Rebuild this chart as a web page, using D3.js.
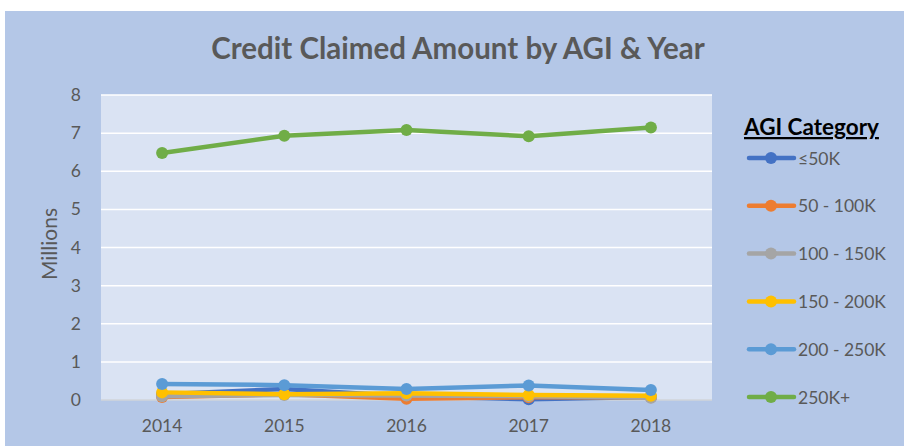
<!DOCTYPE html>
<html><head><meta charset="utf-8">
<script src="https://cdn.jsdelivr.net/npm/d3@7"></script>
<style>body{margin:0;background:#fff}svg{display:block}text{font-family:Lato,"Open Sans",sans-serif}</style>
</head><body>
<script>
const years = ["2014","2015","2016","2017","2018"];
const seriesNames = ["≤50K","50 - 100K","100 - 150K","150 - 200K","200 - 250K","250K+"];
const colors = ["#4472c4","#ed7d31","#a5a5a5","#ffc000","#5b9bd5","#70ad47"];
const v50 = [0.15,0.29,0.10,0.02,0.08];
const v100 = [0.08,0.15,0.03,0.07,0.07];
const v150 = [0.10,0.13,0.12,0.10,0.06];
const v200 = [0.20,0.15,0.18,0.13,0.11];
const v250 = [0.42,0.39,0.29,0.38,0.26];
const v250plus = [6.48,6.93,7.08,6.92,7.15];
const yTicks = [0,1,2,3,4,5,6,7,8];
const values = [v50,v100,v150,v200,v250,v250plus];

const W=904,H=446;
const svg=d3.select("body").append("svg").attr("width",W).attr("height",H);
svg.append("rect").attr("x",5).attr("y",11).attr("width",W-5).attr("height",H-11).attr("fill","#b4c7e7");
const L=101,R=712,T=95,B=400;
svg.append("rect").attr("x",L).attr("y",T).attr("width",R-L).attr("height",B-T).attr("fill","#dae3f3");
const x=d3.scalePoint().domain(years).range([L,R]).padding(0.5);
const y=d3.scaleLinear().domain([0,8]).range([B,T]);
svg.append("g").selectAll("line").data(yTicks.slice(1)).join("line")
 .attr("x1",L).attr("x2",R).attr("y1",d=>y(d)).attr("y2",d=>y(d)).attr("stroke","#fff").attr("stroke-width",1.5);
svg.append("line").attr("x1",L).attr("x2",R).attr("y1",B).attr("y2",B).attr("stroke","#d0d4da").attr("stroke-width",1.5);
svg.append("g").selectAll("text").data(yTicks).join("text")
 .attr("x",81).attr("y",d=>y(d)+6).attr("text-anchor","end").attr("font-size",17.5).attr("fill","#595959").text(d=>d);
svg.append("g").selectAll("text").data(years).join("text")
 .attr("x",d=>x(d)).attr("y",432).attr("text-anchor","middle").attr("font-size",17.5).attr("fill","#595959").text(d=>d);
svg.append("text").attr("transform","translate(57,244) rotate(-90)").attr("text-anchor","middle")
 .attr("font-size",21).attr("fill","#595959").text("Millions");
svg.append("text").attr("x",458).attr("y",59).attr("text-anchor","middle").attr("font-size",29.5).attr("font-weight","bold")
 .attr("fill","#595959").text("Credit Claimed Amount by AGI & Year");
const line=d3.line().x((d,i)=>x(years[i])).y(d=>y(d));
values.forEach((vals,k)=>{
  const g=svg.append("g");
  g.append("path").attr("d",line(vals)).attr("fill","none").attr("stroke",colors[k]).attr("stroke-width",4.5).attr("stroke-linejoin","round");
  g.selectAll("circle").data(vals).join("circle").attr("cx",(d,i)=>x(years[i])).attr("cy",d=>y(d)).attr("r",6).attr("fill",colors[k]);
});
// legend
svg.append("text").attr("x",744).attr("y",135).attr("font-size",22.5).attr("font-weight","bold").attr("fill","#000")
 .attr("text-decoration","underline").text("AGI Category");
const lg=svg.append("g").selectAll("g").data(seriesNames).join("g").attr("transform",(d,i)=>`translate(0,${158+i*47.8})`);
lg.append("line").attr("x1",749).attr("x2",794).attr("stroke",(d,i)=>colors[i]).attr("stroke-width",4.5).attr("stroke-linecap","round");
lg.append("circle").attr("cx",771).attr("r",6).attr("fill",(d,i)=>colors[i]);
lg.append("text").attr("x",798).attr("y",6.5).attr("font-size",17.5).attr("fill","#595959").text(d=>d);
</script>
</body></html>
